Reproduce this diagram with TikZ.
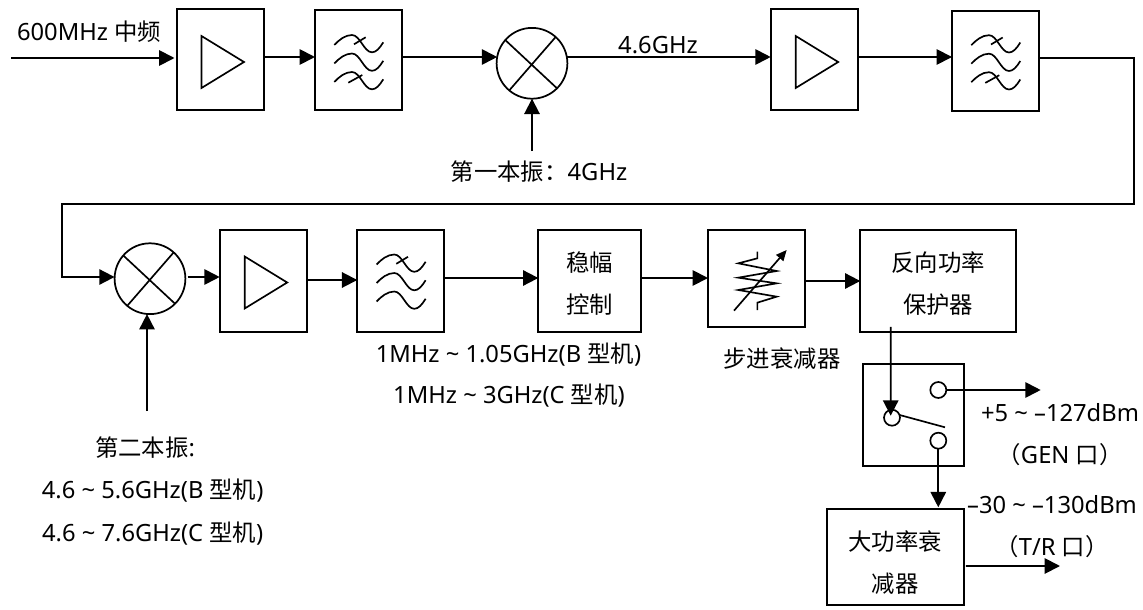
\documentclass[tikz,border=0pt]{standalone}
\usepackage{fontspec}
\setmainfont{Noto Sans}
\newfontfamily\cjk[Scale=0.985]{Noto Sans CJK SC}
\usetikzlibrary{arrows.meta,calc}
\tikzset{
  x=0.75pt,y=-0.75pt,
  blk/.style n args={2}{draw,line width=1.5pt,minimum width=#1*0.75pt,minimum height=#2*0.75pt,inner sep=0pt,outer sep=0pt,align=center,font=\fontsize{17.8}{31.3}\selectfont},
  mixer/.style={draw,circle,line width=1.3pt,minimum size=70.8*0.75pt,inner sep=0pt,outer sep=0pt},
  contact/.style={draw,circle,line width=1.25pt,minimum size=16*0.75pt,inner sep=0pt,outer sep=0pt},
  conn/.style={line width=1.4pt,-{Triangle[length=11.5pt,width=11.5pt]}},
  icon/.style={line width=1.25pt},
  lbl/.style={inner sep=0pt,outer sep=0pt,font=\fontsize{17.8}{21}\selectfont,text height=16pt,text depth=2.8pt},
}
\newcommand{\ampicon}[2]{\draw[icon,shift={(#1,#2)},line join=miter] (25,26.5) -- (67.5,52.5) -- (25,78.5) -- cycle;}
\newcommand{\wavepath}[1]{(19.3,34.5+#1) .. controls (24,29.5+#1) and (30,24.5+#1) .. (37,24.5+#1) .. controls (45,24.5+#1) and (49,41.8+#1) .. (57,41.8+#1) .. controls (61,41.8+#1) and (64.5,38+#1) .. (68.3,31.8+#1)}
\newcommand{\filticon}[2]{\begin{scope}[shift={(#1,#2)}]
  \draw[icon] \wavepath{0};
  \draw[icon] \wavepath{18.5};
  \draw[icon] \wavepath{37};
  \draw[icon] (39,33.8) -- (50.7,26.8);
\end{scope}}
\newcommand{\lowtick}[2]{\draw[icon,shift={(#1,#2)}] (33.3,72.2) -- (47.3,64.5);}
\newcommand{\dn}[1]{\rule{0pt}{#1}}
\begin{document}
\begin{tikzpicture}
\useasboundingbox (0,0) rectangle (1143,610);
% blocks, row 1
\node[blk={87}{101}] (a1) at (220,60) {};
\node[blk={87}{100}] (f1) at (358.5,60.5) {};
\node[mixer] (m1) at (532,63.3) {};
\node[blk={87}{101}] (a2) at (814.2,60) {};
\node[blk={87}{100}] (f2) at (995.5,60.7) {};
% row 2
\node[mixer] (m2) at (150,278.7) {};
\node[blk={87}{101.7}] (a3) at (263.2,280.8) {};
\node[blk={87}{101.7}] (f3) at (400.8,280.8) {};
\node[blk={102.7}{101.7}] (c) at (589.7,280.8) {\dn{18.8pt}{\cjk 稳幅}\\{\cjk 控制}};
\node[blk={97}{97.3}] (st) at (756.5,278.7) {};
\node[blk={155.7}{101.7}] (p) at (938.2,280.8) {\dn{18.8pt}{\cjk 反向功率}\\{\cjk 保护器}};
% switch
\node[blk={100.7}{101.4}] (sw) at (913.7,415) {};
\node[contact] (c1) at (938.3,390) {};
\node[contact] (c2) at (892,417.7) {};
\node[contact] (c3) at (938.3,440.7) {};
\node[blk={137.3}{96}] (big) at (895.3,557.3) {\dn{23.1pt}{\cjk 大功率衰}\\{\cjk 减器}};
% free ends
\coordinate (in) at (11,58);
\coordinate (lo1) at (532,151);
\coordinate (lo2) at (147,411);
\coordinate (rt) at (1134,204);
\coordinate (lf) at (62,204);
\coordinate (out1) at (1040.7,390);
\coordinate (out2) at (1060,566);
\coordinate (armend) at (945,427.3);
% icons
\ampicon{176.5}{9.5}
\ampicon{770.7}{9.5}
\ampicon{219.7}{230}
\filticon{315}{10.5}\lowtick{315}{10.5}
\filticon{952}{10.7}\lowtick{952}{10.7}
\filticon{357.3}{230}
\draw[icon] (m1.139) -- (m1.-45) (m1.-130) -- (m1.48);
\draw[icon] (m2.139) -- (m2.-45) (m2.-130) -- (m2.48);
\begin{scope}[shift={(680,210)},scale=1/3]
  \draw[icon,line join=miter] (232,125) -- (232,145) -- (175,160) -- (290,183) -- (175,203) -- (290,220) -- (175,240) -- (290,260) -- (232,278) -- (232,300);
  \draw[icon,-{Triangle[length=8pt,width=7pt]}] (162,302) -- (320,120);
\end{scope}
% connectors
\draw[conn] (in) -- ($(a1.west)+(-2,-2)$);
\draw[conn] ($(a1.east)+(0,-3)$) -- ($(f1.west)+(0,-3.5)$);
\draw[conn] ($(f1.east)+(0,-3.5)$) -- ($(m1.west)+(0.6,-6.3)$);
\draw[conn] ($(m1.east)+(-0.3,-6.3)$) -- ($(a2.west)+(0,-3)$);
\draw[conn] ($(a2.east)+(0,-3)$) -- ($(f2.west)+(0,-3.7)$);
\draw[conn] (lo1) -- (m1.south);
\draw[conn,line join=miter] ($(f2.east)+(0,-2.7)$) -| (rt) -- (lf) |- ($(m2.west)+(0,-1.7)$);
\draw[conn] (lo2) -- ($(m2.south)+(-3,0)$);
\draw[conn] ($(m2.east)+(2.3,-1.7)$) -- ($(a3.west)+(0,-3.8)$);
\draw[conn] ($(a3.east)+(0,-0.8)$) -- ($(f3.west)+(0,-0.8)$);
\draw[conn] ($(f3.east)+(0,-2.8)$) -- ($(c.west)+(0,-2.8)$);
\draw[conn] ($(c.east)+(0,-2.8)$) -- ($(st.west)+(0,-0.7)$);
\draw[conn] ($(st.east)+(0,2.3)$) -- ($(p.west)+(0,0.2)$);
\draw[conn] ($(p.south)+(-47.5,-4.7)$) -- ($(c2.north)+(-1.3,6)$);
\draw[icon] (c2.20) -- (armend);
\draw[conn] (c1.east) -- (out1);
\draw[conn] (c3.south) -- ($(big.north)+(43,-2)$);
\draw[conn] ($(big.east)+(2,8.7)$) -- (out2);
% labels
\node[lbl] (t1) at (89,32) {600MHz {\cjk 中频}};
\node[lbl] (t2) at (658,45) {4.6GHz};
\node[lbl] (t3) at (539,172) {{\cjk 第一本振：}4GHz};
\node[lbl] (t4) at (508.5,354) {1MHz \char`~{} 1.05GHz(B {\cjk 型机})};
\node[lbl] (t5) at (509,395) {1MHz \char`~{} 3GHz(C {\cjk 型机})};
\node[lbl] (t6) at (782,359) {\cjk 步进衰减器};
\node[lbl] (t7) at (145,447.7) {{\cjk 第二本振}:};
\node[lbl] (t8) at (152.7,490) {4.6 \char`~{} 5.6GHz(B {\cjk 型机})};
\node[lbl] (t9) at (152.7,532.7) {4.6 \char`~{} 7.6GHz(C {\cjk 型机})};
\node[lbl] (t10) at (1060,413) {+5 \char`~{} –127dBm};
\node[lbl] (t11) at (1060,455) {{\cjk （}GEN {\cjk 口）}};
\node[lbl] (t12) at (1052,505) {–30 \char`~{} –130dBm};
\node[lbl] (t13) at (1052,546.7) {{\cjk （}T/R {\cjk 口）}};
\end{tikzpicture}
\end{document}
